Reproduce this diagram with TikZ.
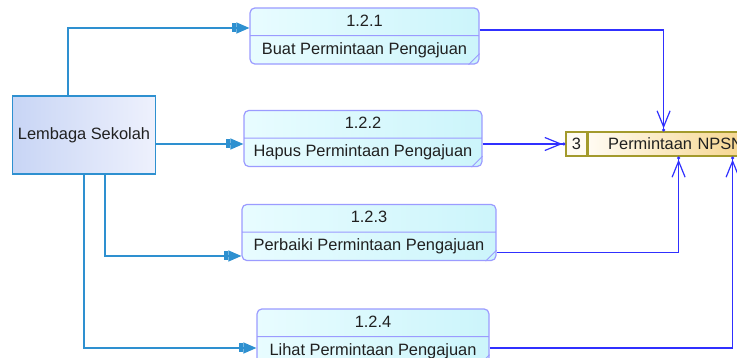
\documentclass[tikz,border=0pt]{standalone}
\usepackage{fontspec}
\setmainfont{Liberation Sans}
\usetikzlibrary{arrows.meta,positioning,shapes.multipart}
\definecolor{entline}{HTML}{2E90D0}
\definecolor{entfillA}{HTML}{C8D5F5}
\definecolor{entfillB}{HTML}{EEF1FD}
\definecolor{procline}{HTML}{9B9BFF}
\definecolor{procfillA}{HTML}{E8FCFF}
\definecolor{procfillB}{HTML}{CCF5FB}
\definecolor{storeline}{HTML}{A39A2C}
\definecolor{storefillA}{HTML}{FFFBF2}
\definecolor{storefillB}{HTML}{F2C666}
\definecolor{flowline}{HTML}{3030FF}
\definecolor{txt}{HTML}{202020}

\begin{document}
\begin{tikzpicture}
[x=1pt,y=-1pt,
entity/.style ={rectangle, draw=entline, line width=1.2pt,
left color=entfillA, right color=entfillB, text=txt,
minimum width=140pt, minimum height=78pt},
proc/.style ={rectangle split, rectangle split parts=2,
draw=procline, line width=1.2pt, rounded corners=5pt,
left color=procfillA, right color=procfillB, text=txt,
text height=11.5pt, text depth=3pt, inner ysep=6pt, align=center},
storeid/.style ={rectangle, draw=storeline, line width=1.2pt, fill=storefillA,
text=txt, minimum width=21pt, minimum height=24pt, inner sep=0pt},
store/.style ={rectangle, draw=storeline, line width=1.2pt,
left color=storefillA, right color=storefillB, text=txt,
minimum height=24pt, text width=180pt, inner xsep=20pt, inner ysep=0pt, align=left},
inflow/.style ={draw=entline, line width=1.2pt,
-{Rectangle[length=4pt,width=9pt]Triangle[length=13pt,width=11pt]}},
outflow/.style ={draw=flowline, line width=1.2pt,
-{Straight Barb[length=16pt,width=13pt]Circle[length=3pt]}}]
\fontsize{16.4}{18}\selectfont
\clip (0,0) rectangle (737,358);

\node [entity]                      (ls)  at (84, 135)     {Lembaga Sekolah};

\node [proc, minimum width=229pt]   (p1)  at (364.5, 36)   {1.2.1\nodepart{two}Buat Permintaan Pengajuan};
\node [proc, minimum width=238pt]   (p2)  at (363, 138.5)  {1.2.2\nodepart{two}Hapus Permintaan Pengajuan};
\node [proc, minimum width=254pt]   (p3)  at (369, 232.5)  {1.2.3\nodepart{two}Perbaiki Permintaan Pengajuan};
\node [proc, minimum width=232pt]   (p4)  at (373, 337)    {1.2.4\nodepart{two}Lihat Permintaan Pengajuan};

\node [storeid]                     (d3)  at (576.5, 144)  {3};
\node [store, anchor=west]          (npsn) at (d3.east)    {Permintaan NPSN};

% corner marks of the processes
\foreach \p in {p1,p2,p3,p4}
  \draw [procline, line width=0.8pt] ([xshift=-11pt]\p.south east) -- ([yshift=11pt]\p.south east);

\draw [inflow] ([xshift=-16pt]ls.north) |- ([yshift=8pt]p1.west);
\draw [inflow] ([yshift=-9pt]ls.east) -- ([yshift=-9pt]ls.east -| p2.west);
\draw [inflow] ([xshift=21pt]ls.south) |- ([yshift=-23.5pt]p3.west);
\draw [inflow] (ls.south) |- ([yshift=-11pt]p4.west);

\draw [outflow] ([yshift=6pt]p1.east) -| ([xshift=76pt]npsn.north west);
\draw [outflow] ([yshift=-5.5pt]p2.east) -- (d3.west);
\draw [outflow] ([yshift=-20pt]p3.east) -| ([xshift=91pt]npsn.south west);
\draw [outflow] ([yshift=-11pt]p4.east) -| ([xshift=145pt]npsn.south west);

\end{tikzpicture}
\end{document}
